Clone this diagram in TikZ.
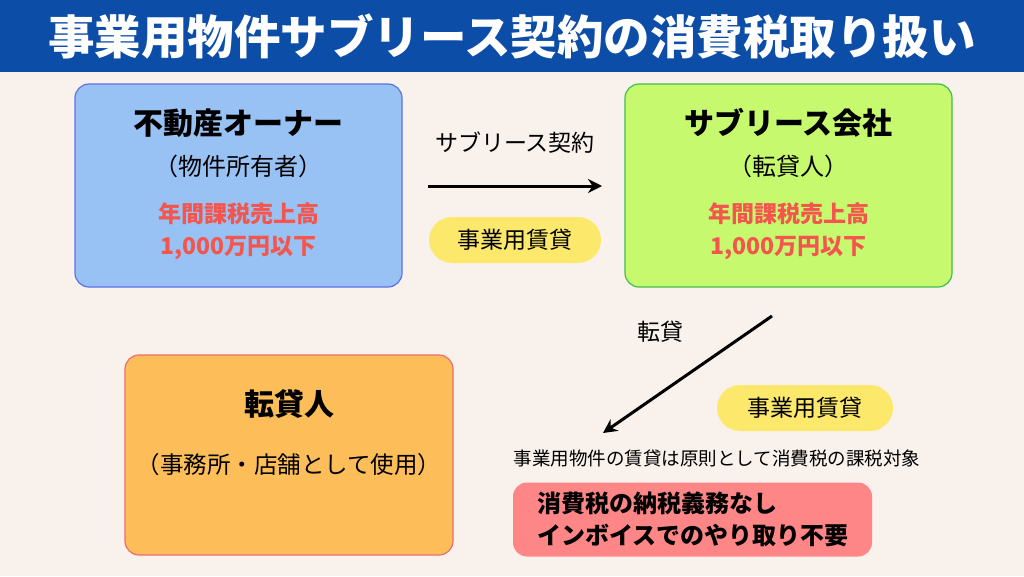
\documentclass[tikz,border=0pt]{standalone}
\usepackage{fontspec}
\setmainfont{Noto Sans CJK JP}
\usetikzlibrary{arrows.meta}
\definecolor{bg}{HTML}{F8F1EC}
\definecolor{titlebg}{HTML}{0C4DA8}
\definecolor{bluef}{HTML}{98C1F4}
\definecolor{blued}{HTML}{5C72E6}
\definecolor{greenf}{HTML}{C6F96E}
\definecolor{greend}{HTML}{3FC04A}
\definecolor{orangef}{HTML}{FDBE5A}
\definecolor{oranged}{HTML}{EC6D6D}
\definecolor{redtxt}{HTML}{F4564E}
\definecolor{pillf}{HTML}{FCE86A}
\definecolor{pinkf}{HTML}{FF8686}
\begin{document}
\begin{tikzpicture}[x=1pt,y=-1pt,
  bigbox/.style={rounded corners=14pt,line width=1.2pt,minimum width=327pt,minimum height=203pt},
  pill/.style={fill=pillf,rounded corners=23pt,minimum width=172pt,minimum height=46pt,font=\fontsize{23}{26}\selectfont},
  arr/.style={line width=3pt,-{Stealth[length=14pt,width=14pt]}}]
\useasboundingbox (0,0) rectangle (1024,576);
\fill[bg] (0,0) rectangle (1024,576);
\fill[titlebg] (0,0) rectangle (1024,72);
\node[white,font=\bfseries\fontsize{46.5}{50}\selectfont] (title) at (512,37) {事業用物件サブリース契約の消費税取り扱い};
\node[bigbox,draw=blued,fill=bluef] (owner) at (238.5,185.5) {};
\node[font=\bfseries\fontsize{30}{34}\selectfont] (ownert) at (238.5,123) {不動産オーナー};
\node[font=\fontsize{24}{28}\selectfont] (owners) at (238.5,166) {（物件所有者）};
\node[font=\bfseries\fontsize{23}{32}\selectfont,text=redtxt,align=center] (ownerr) at (238.5,231) {年間課税売上高\\1,000万円以下};
\node[bigbox,draw=greend,fill=greenf] (sub) at (788.5,185.5) {};
\node[font=\bfseries\fontsize{30}{34}\selectfont] (subt) at (788.5,123) {サブリース会社};
\node[font=\fontsize{24}{28}\selectfont] (subs) at (788.5,166) {（転貸人）};
\node[font=\bfseries\fontsize{23}{32}\selectfont,text=redtxt,align=center] (subr) at (788.5,231) {年間課税売上高\\1,000万円以下};
\node[bigbox,draw=oranged,fill=orangef,minimum width=328pt,minimum height=200pt] (ten) at (289,455) {};
\node[font=\bfseries\fontsize{30}{34}\selectfont] (tent) at (289,404) {転貸人};
\node[font=\fontsize{23.5}{28}\selectfont] (tens) at (289,465) {（事務所・店舗として使用）};
\coordinate (a1) at (428,186);
\coordinate (a2) at (602,186);
\draw[arr] (a1) -- (a2);
\node[font=\fontsize{23}{26}\selectfont] (l1) at (515,143) {サブリース契約};
\node[pill] (p1) at (515,240) {事業用賃貸};
\coordinate (b1) at (772,316);
\coordinate (b2) at (603,433);
\draw[arr] (b1) -- (b2);
\node[font=\fontsize{23}{26}\selectfont] (l2) at (660,332) {転貸};
\node[pill,minimum width=176pt] (p2) at (805,408) {事業用賃貸};
\node[font=\fontsize{18.5}{20}\selectfont] (note) at (717,458) {事業用物件の賃貸は原則として消費税の課税対象};
\node[fill=pinkf,rounded corners=14pt,minimum width=359pt,minimum height=74pt,font=\bfseries\fontsize{24}{32}\selectfont,align=left,text width=310pt] (res) at (692.5,519.5) {消費税の納税義務なし\\インボイスでのやり取り不要};
\end{tikzpicture}
\end{document}
